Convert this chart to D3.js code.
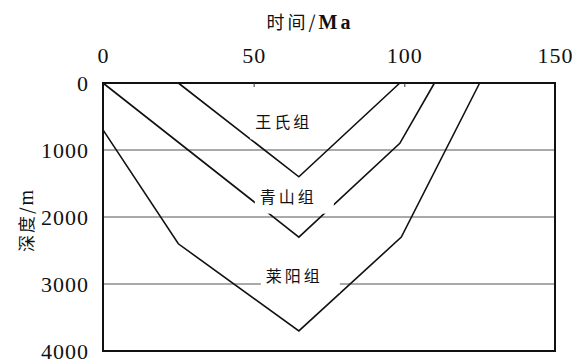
<!DOCTYPE html>
<html>
<head>
<meta charset="utf-8">
<script src="https://cdn.jsdelivr.net/npm/d3@7"></script>
<style>
  body { margin: 0; background: #fff; }
</style>
</head>
<body>
<div id="chart"></div>
<script>
const width = 577;
const height = 360;

// time (Ma) and depth (m) of the three formation base lines
const wangshiTime  = [25, 65, 98.5];
const wangshiDepth = [0, 1400, 0];
const qingshanTime  = [0, 65, 98.5, 110];
const qingshanDepth = [0, 2300, 900, 0];
const laiyangTime  = [0, 25, 65, 99, 125];
const laiyangDepth = [700, 2400, 3700, 2300, 0];

const xTicks = [0, 50, 100, 150];
const yTicks = [0, 1000, 2000, 3000, 4000];
const gridDepths = [1000, 2000, 3000];

const labelNames = ["王氏组", "青山组", "莱阳组"];
const labelTime  = [60, 61.5, 63.5];
const labelDepth = [590, 1700, 2880];

const margin = {top: 83, right: 22, bottom: 9, left: 103};
const serif = '"Liberation Serif", "Times New Roman", serif';
const cjk = '"Noto Sans CJK SC", sans-serif';

const svg = d3.select("#chart")
    .append("svg")
    .attr("width", width)
    .attr("height", height);

const x = d3.scaleLinear().domain([0, 150]).range([margin.left, width - margin.right]);
const y = d3.scaleLinear().domain([0, 4000]).range([margin.top, height - margin.bottom]);

// grid lines
svg.selectAll("line.grid")
    .data(gridDepths)
    .enter()
    .append("line")
    .attr("class", "grid")
    .attr("x1", x(0)).attr("x2", x(150))
    .attr("y1", d => y(d)).attr("y2", d => y(d))
    .attr("stroke", "#555")
    .attr("stroke-width", 1);

// burial curves
const line = d3.line().x(d => x(d[0])).y(d => y(d[1]));
const series = [
    d3.zip(wangshiTime, wangshiDepth),
    d3.zip(qingshanTime, qingshanDepth),
    d3.zip(laiyangTime, laiyangDepth)
];
svg.selectAll("path.curve")
    .data(series)
    .enter()
    .append("path")
    .attr("class", "curve")
    .attr("d", line)
    .attr("fill", "none")
    .attr("stroke", "#111")
    .attr("stroke-width", 1.6);

// formation labels with white backing (they cut the lines like in the print)
labelNames.forEach((name, i) => {
    const g = svg.append("g");
    const t = g.append("text")
        .attr("x", x(labelTime[i]))
        .attr("y", y(labelDepth[i]))
        .attr("dy", "0.36em")
        .attr("text-anchor", "middle")
        .attr("fill", "#111")
        .style("font-family", cjk)
        .style("font-size", "16px")
        .style("letter-spacing", "3px")
        .text(name);
    const bb = t.node().getBBox();
    g.insert("rect", "text")
        .attr("x", bb.x - 5)
        .attr("y", bb.y + 2)
        .attr("width", bb.width + 22)
        .attr("height", bb.height + 4)
        .attr("fill", "#fff");
});

// frame
svg.append("rect")
    .attr("x", x(0)).attr("y", y(0))
    .attr("width", x(150) - x(0))
    .attr("height", y(4000) - y(0))
    .attr("fill", "none")
    .attr("stroke", "#111")
    .attr("stroke-width", 2);

// top axis
const xAxis = svg.append("g")
    .attr("transform", `translate(0,${margin.top})`)
    .call(d3.axisTop(x).tickValues(xTicks).tickSizeInner(-4).tickSizeOuter(0).tickPadding(20));
xAxis.select(".domain").remove();
xAxis.selectAll(".tick line").attr("stroke", "#333").attr("stroke-width", 1)
    .filter(d => d === 0 || d === 150).remove();
xAxis.selectAll("text")
    .attr("fill", "#111")
    .style("font-family", serif)
    .style("font-size", "22px")
    .style("letter-spacing", "1px");

// left axis
const yAxis = svg.append("g")
    .attr("transform", `translate(${margin.left},0)`)
    .call(d3.axisLeft(y).tickValues(yTicks).tickSize(0).tickPadding(14).tickFormat(d3.format("d")));
yAxis.select(".domain").remove();
yAxis.selectAll("text")
    .attr("fill", "#111")
    .style("font-family", serif)
    .style("font-size", "22px")
    .style("letter-spacing", "1px");

// axis titles
svg.append("text")
    .attr("x", 310)
    .attr("y", 29)
    .attr("text-anchor", "middle")
    .attr("fill", "#111")
    .style("font-family", cjk)
    .style("font-size", "18px")
    .style("letter-spacing", "3px")
    .html(`时间/<tspan style='font-family: ${serif}; font-weight: bold; font-size: 20px'>Ma</tspan>`);

svg.append("text")
    .attr("transform", "translate(27,220) rotate(-90)")
    .attr("text-anchor", "middle")
    .attr("dy", "0.35em")
    .attr("fill", "#111")
    .style("font-family", cjk)
    .style("font-size", "17px")
    .style("letter-spacing", "2px")
    .html(`深度/<tspan style='font-family: ${serif}; font-size: 20px'>m</tspan>`);
</script>
</body>
</html>
